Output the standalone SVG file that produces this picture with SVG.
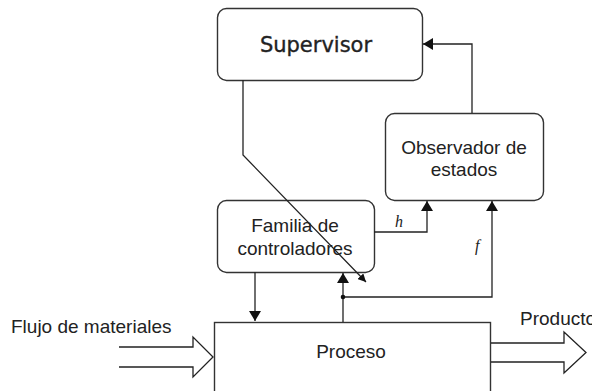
<svg xmlns="http://www.w3.org/2000/svg" width="592" height="391" viewBox="0 0 592 391">
<style>
.box{fill:#fff;stroke:#333;stroke-width:1.4}
.ln{fill:none;stroke:#222;stroke-width:1.3}
.t{font-family:"Liberation Sans",Arial,sans-serif;font-size:19px;fill:#222}
.sup{font-family:"DejaVu Sans",Verdana,sans-serif;font-size:21px;fill:#222;stroke:#222;stroke-width:0.35}
.it{font-family:"Liberation Serif","Times New Roman",serif;font-style:italic;font-size:16px;fill:#222}
</style>
<defs>
<marker id="ah" viewBox="0 0 10 12" refX="10" refY="6" markerWidth="10" markerHeight="12" markerUnits="userSpaceOnUse" orient="auto">
<path d="M0,0 L10,6 L0,12 z" fill="#111"/>
</marker>
<marker id="ahs" viewBox="0 0 8 8" refX="8" refY="4" markerWidth="8" markerHeight="8" markerUnits="userSpaceOnUse" orient="auto">
<path d="M0,0 L8,4 L0,8 z" fill="#111"/>
</marker>
</defs>
<rect width="592" height="391" fill="#fff"/>
<g id="supervisor">
<rect class="box" x="217.5" y="8.5" width="205" height="72" rx="9"/>
<text class="sup" x="316" y="52" text-anchor="middle">Supervisor</text>
</g>
<g id="observador">
<rect class="box" x="385.5" y="113.5" width="158" height="87" rx="9"/>
<text class="t" x="464" y="154" text-anchor="middle">Observador de</text>
<text class="t" x="464" y="176" text-anchor="middle">estados</text>
</g>
<g id="familia">
<rect class="box" x="217.5" y="200.5" width="157" height="72" rx="9"/>
<text class="t" x="295" y="232" text-anchor="middle">Familia de</text>
<text class="t" x="295" y="255" text-anchor="middle">controladores</text>
</g>
<g id="proceso">
<rect class="box" x="214.5" y="322.5" width="276" height="100"/>
<text class="t" x="351" y="358" text-anchor="middle">Proceso</text>
</g>
<g id="labels">
<text class="t" x="11" y="333">Flujo de materiales</text>
<text class="t" x="520" y="325">Producto</text>
</g>
<g id="connectors">
<path class="ln" d="M472,113 V44 H423" marker-end="url(#ah)"/>
<path class="ln" d="M243,80 V155 L366,282" marker-end="url(#ahs)"/>
<path class="ln" d="M374,232 H427 V201" marker-end="url(#ah)"/>
<path class="ln" d="M343,322 V297 H492 V201" marker-end="url(#ah)"/>
<path class="ln" d="M343,297 V273" marker-end="url(#ah)"/>
<circle cx="343" cy="297" r="2.3" fill="#111"/>
<path class="ln" d="M255,272 V321" marker-end="url(#ah)"/>
<path class="ln" d="M119,347 H193 V337 L213,357 L193,377 V367 H119"/>
<path class="ln" d="M491,343 H564 V332 L586,352.5 L564,373 V362 H491"/>
<text class="it" x="395" y="227">h</text>
<text class="it" x="475" y="251">f</text>
</g>
</svg>
